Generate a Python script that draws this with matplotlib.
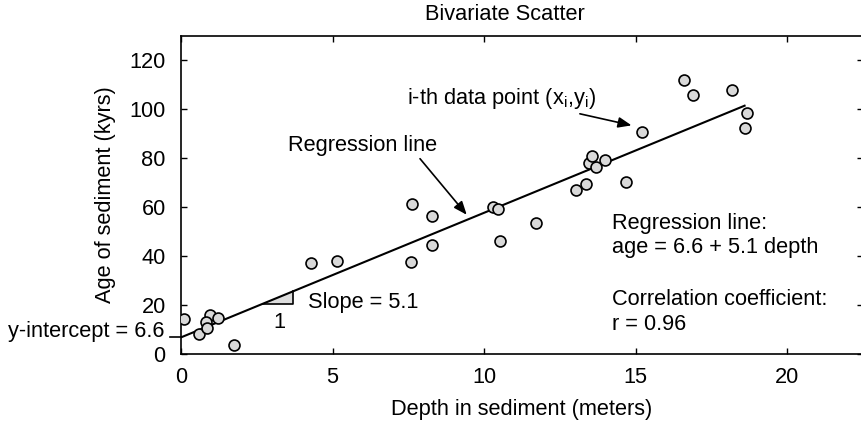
import numpy as np
import matplotlib
matplotlib.use('Agg')
import matplotlib.pyplot as plt
from matplotlib.patches import Polygon

plt.rcParams['font.family'] = ['Liberation Sans', 'DejaVu Sans']

# sediment samples
depth = [0.1, 0.6, 0.96, 0.84, 0.86, 1.23, 1.76, 4.29, 5.16, 7.59, 7.63, 8.28, 8.3,
         10.31, 10.47, 10.53, 11.73, 13.04, 13.37, 13.48, 13.55, 13.7, 14.0, 14.69,
         15.2, 16.6, 16.9, 18.2, 18.6, 18.68]
age = [14.2, 7.8, 15.9, 12.8, 10.5, 14.5, 3.6, 37.2, 38.0, 37.6, 61.1, 56.3, 44.3,
       60.0, 59.3, 46.0, 53.6, 66.8, 69.3, 77.9, 80.7, 76.4, 79.1, 70.1,
       90.7, 111.9, 105.7, 108.0, 92.5, 98.6]

intercept = 6.6
slope = 5.1
line_x = [0, 18.6]
xticks = [0, 5, 10, 15, 20]
yticks = [0, 20, 40, 60, 80, 100, 120]

fs = 15.7
W, H = 861, 429
fig = plt.figure(figsize=(W / 100, H / 100), dpi=100)
ax = fig.add_axes([181 / W, 75.5 / H, 681.75 / W, 317.5 / H])

lx = np.array(line_x)
ax.plot(lx, intercept + slope * lx, color='black', lw=1.5, zorder=2)
ax.scatter(depth, age, s=62, facecolor='#d9d9d9', edgecolor='black', linewidth=1.2, zorder=3)

# slope triangle
x0, x1 = 2.7, 3.7
tri = Polygon([[x0, intercept + slope * x0], [x1, intercept + slope * x0],
               [x1, intercept + slope * x1]], closed=True,
              facecolor='#dddddd', edgecolor='none', zorder=1)
ax.add_patch(tri)
ax.plot([x0, x1, x1], [intercept + slope * x0, intercept + slope * x0, intercept + slope * x1],
        color='black', lw=1.2, zorder=2)
ax.text(3.24, 12.7, '1', fontsize=fs, ha='center', va='center')
ax.text(4.2, 21, 'Slope = 5.1', fontsize=fs, ha='left', va='center')

# intercept mark
ax.plot([-0.36, 0], [intercept, intercept], color='black', lw=1.2, clip_on=False)
ax.text(-0.53, intercept + 0.3, 'y-intercept = 6.6', fontsize=fs, ha='right', va='baseline')

ax.annotate('Regression line', xy=(9.43, 56.8), xytext=(3.53, 85.2), fontsize=fs,
            ha='left', va='center',
            arrowprops=dict(arrowstyle='-|>,head_length=0.5,head_width=0.2', color='black',
                            lw=1.2, shrinkA=0, shrinkB=0, mutation_scale=16,
                            relpos=(0.87, 0.0)))
ax.annotate('i-th data point (x$_\\mathregular{i}$,y$_\\mathregular{i}$)', xy=(14.87, 93.4),
            xytext=(7.45, 104.4), fontsize=fs, ha='left', va='center',
            arrowprops=dict(arrowstyle='-|>,head_length=0.5,head_width=0.2', color='black',
                            lw=1.2, shrinkA=0, shrinkB=0, mutation_scale=16,
                            relpos=(0.85, 0.0)))

ax.text(14.23, 53.4, 'Regression line:', fontsize=fs, ha='left', va='center')
ax.text(14.23, 43.6, 'age = 6.6 + 5.1 depth', fontsize=fs, ha='left', va='center')
ax.text(14.23, 22.1, 'Correlation coefficient:', fontsize=fs, ha='left', va='center')
ax.text(14.23, 11.9, 'r = 0.96', fontsize=fs, ha='left', va='center')

ax.set_xlim(0, 22.5)
ax.set_ylim(0, 130)
ax.set_xticks(xticks)
ax.set_yticks(yticks)
ax.tick_params(direction='in', length=4, width=1, top=True, right=True, labelsize=fs)
ax.tick_params(axis='x', pad=10)
ax.tick_params(axis='y', pad=11)
for s in ax.spines.values():
    s.set_linewidth(1.2)

fig.text(505 / W, 1 - 14 / H, 'Bivariate Scatter', fontsize=fs, ha='center', va='center')
ax.set_xlabel('Depth in sediment (meters)', fontsize=fs)
ax.xaxis.set_label_coords(0.5, -(410 - 353.5) / 317.5)
ax.xaxis.label.set_va('center')
ax.set_ylabel('Age of sediment (kyrs)', fontsize=fs)
ax.yaxis.set_label_coords(-(181 - 106) / 681.75, 0.5)
ax.yaxis.label.set_va('center')

fig.savefig('out.png', dpi=100)
